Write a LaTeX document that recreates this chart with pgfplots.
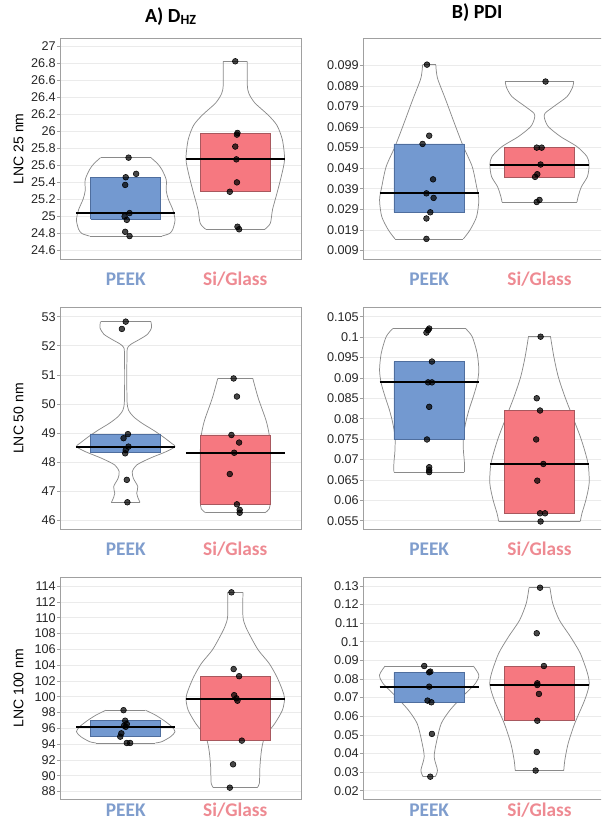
\documentclass[border=0pt]{standalone}
\usepackage{pgfplots}
\pgfplotsset{compat=1.18}
\usepackage{fontspec}
\setmainfont{Liberation Sans}
\newfontfamily\carlito{Carlito}
\definecolor{peekfill}{HTML}{7399D0}
\definecolor{peekdraw}{HTML}{4F6E9E}
\definecolor{sifill}{HTML}{F67880}
\definecolor{sidraw}{HTML}{A8585E}
\definecolor{peeklab}{HTML}{7F9DCD}
\definecolor{silab}{HTML}{EE8A92}
\definecolor{framec}{HTML}{A0A0A0}
\definecolor{gridc}{HTML}{EBEBEB}
\definecolor{vio}{HTML}{8A8A8A}
\pgfplotsset{
  panel/.style={
    scale only axis, anchor=south west,
    xmin=0.4, xmax=2.6,
    xtick={1,2},
    xticklabels={\textcolor{peeklab}{PEEK},\textcolor{silab}{Si/Glass}},
    x tick style={draw=none},
    xticklabel style={font=\carlito\bfseries\fontsize{14.5}{16}\selectfont, anchor=base, yshift=-17.3pt},
    ytick pos=left, tick align=outside, major tick length=2pt,
    y tick style={draw=framec, line width=0.5pt},
    yticklabel style={font=\fontsize{9.5}{11}\selectfont, inner sep=1pt, text=black!85},
    axis line style={draw=framec, line width=0.6pt},
    ymajorgrids, grid style={draw=gridc, line width=0.5pt},
    ylabel style={font=\fontsize{10.5}{12}\selectfont, at={(axis description cs:-0.172,0.5)}, anchor=center},
    title style={font=\carlito\bfseries\fontsize{15}{17}\selectfont, anchor=base},
    unbounded coords=jump,
  },
  vside/.style={draw=vio, line width=0.55pt, smooth, tension=0.45, no markers},
  vcap/.style={draw=vio, line width=0.55pt, sharp plot, no markers},
  pts/.style={only marks, mark=*, mark size=2.15pt, mark options={draw=none, fill=black, fill opacity=0.72}},
  med/.style={draw=black, line width=1.5pt, no markers, sharp plot},
  pbox/.style={draw=peekdraw, fill=peekfill, line width=0.5pt, no markers, sharp plot},
  sbox/.style={draw=sidraw, fill=sifill, line width=0.5pt, no markers, sharp plot},
}
\newcommand{\boxP}[2]{\addplot[pbox] coordinates {(0.68,#1)(1.32,#1)(1.32,#2)(0.68,#2)(0.68,#1)};}
\newcommand{\boxS}[2]{\addplot[sbox] coordinates {(1.68,#1)(2.32,#1)(2.32,#2)(1.68,#2)(1.68,#1)};}
\newcommand{\medP}[1]{\addplot[med] coordinates {(0.55,#1)(1.45,#1)};}
\newcommand{\medS}[1]{\addplot[med] coordinates {(1.55,#1)(2.45,#1)};}
\begin{document}
\begin{tikzpicture}
\path[use as bounding box] (0,0) rectangle (450.75pt,617.25pt);
\clip (0,0) rectangle (450.75pt,617.25pt);
% ---------------- A1
\begin{axis}[panel, at={(45pt,422.78pt)}, width=180.75pt, height=165.75pt,
  ymin=24.498, ymax=27.09,
  ytick={24.6,24.8,25,25.2,25.4,25.6,25.8,26,26.2,26.4,26.6,26.8,27},
  yticklabels={24.6,24.8,25,25.2,25.4,25.6,25.8,26,26.2,26.4,26.6,26.8,27},
  ylabel={LNC 25 nm},
  title={A) D\textsubscript{HZ}}, title style={at={(axis description cs:0.46,1)}, yshift=6.2pt}]
\addplot[vside] coordinates {(1.33,24.77)(1.40,24.80)(1.43,24.85)(1.45,24.96)(1.43,25.08)(1.39,25.2)(1.37,25.3)(1.37,25.43)(1.33,25.55)(1.29,25.62)(1.23,25.69)};
\addplot[vside] coordinates {(0.67,24.77)(0.60,24.80)(0.57,24.85)(0.55,24.96)(0.57,25.08)(0.61,25.2)(0.63,25.3)(0.63,25.43)(0.67,25.55)(0.71,25.62)(0.77,25.69)};
\addplot[vcap] coordinates {(0.67,24.77)(1.33,24.77)(1,nan)(0.77,25.69)(1.23,25.69)};
\addplot[vside] coordinates {(2.27,24.85)(2.32,24.92)(2.34,25.08)(2.38,25.27)(2.42,25.47)(2.45,25.67)(2.43,25.9)(2.38,26.07)(2.30,26.19)(2.18,26.33)(2.125,26.44)(2.11,26.54)(2.11,26.82)};
\addplot[vside] coordinates {(1.73,24.85)(1.68,24.92)(1.66,25.08)(1.62,25.27)(1.58,25.47)(1.55,25.67)(1.57,25.9)(1.62,26.07)(1.70,26.19)(1.82,26.33)(1.875,26.44)(1.89,26.54)(1.89,26.82)};
\addplot[vcap] coordinates {(1.73,24.85)(2.27,24.85)(2,nan)(1.89,26.82)(2.11,26.82)};
\boxP{24.97}{25.46}
\boxS{25.29}{25.97}
\medP{25.04}
\medS{25.67}
\addplot[pts] coordinates {(1.026,25.69)(1.095,25.50)(1.0,25.46)(0.995,25.37)(1.035,25.04)(0.99,25.0)(1.01,24.96)(0.995,24.82)(1.035,24.77)};
\addplot[pts] coordinates {(2.0,26.82)(2.02,25.98)(2.015,25.96)(2.0,25.82)(2.01,25.67)(2.015,25.40)(1.95,25.29)(2.02,24.88)(2.035,24.85)};
\end{axis}
% ---------------- B1
\begin{axis}[panel, at={(272.25pt,422.78pt)}, width=182pt, height=165.75pt,
  ymin=0.00479, ymax=0.1121,
  ytick={0.009,0.019,0.029,0.039,0.049,0.059,0.069,0.079,0.089,0.099},
  yticklabels={0.009,0.019,0.029,0.039,0.049,0.059,0.069,0.079,0.089,0.099},
  title={B) PDI}, title style={at={(axis description cs:0.47,1)}, yshift=8.5pt}]
\addplot[vside] coordinates {(1.31,0.0147)(1.37,0.019)(1.43,0.0255)(1.45,0.0336)(1.43,0.040)(1.39,0.0498)(1.31,0.0595)(1.24,0.0692)(1.15,0.0822)(1.08,0.0919)(1.065,0.096)(1.06,0.0993)};
\addplot[vside] coordinates {(0.69,0.0147)(0.63,0.019)(0.57,0.0255)(0.55,0.0336)(0.57,0.040)(0.61,0.0498)(0.69,0.0595)(0.76,0.0692)(0.85,0.0822)(0.92,0.0919)(0.935,0.096)(0.94,0.0993)};
\addplot[vcap] coordinates {(0.69,0.0147)(1.31,0.0147)(1,nan)(0.94,0.0993)(1.06,0.0993)};
\addplot[vside] coordinates {(2.34,0.0326)(2.35,0.0352)(2.38,0.040)(2.435,0.045)(2.45,0.0508)(2.43,0.0547)(2.34,0.0595)(2.19,0.0644)(2.08,0.0692)(2.045,0.0733)(2.05,0.0757)(2.13,0.079)(2.25,0.0838)(2.30,0.0883)(2.31,0.0911)};
\addplot[vside] coordinates {(1.66,0.0326)(1.65,0.0352)(1.62,0.040)(1.565,0.045)(1.55,0.0508)(1.57,0.0547)(1.66,0.0595)(1.81,0.0644)(1.92,0.0692)(1.955,0.0733)(1.95,0.0757)(1.87,0.079)(1.75,0.0838)(1.70,0.0883)(1.69,0.0911)};
\addplot[vcap] coordinates {(1.66,0.0326)(2.34,0.0326)(2,nan)(1.69,0.0911)(2.31,0.0911)};
\boxP{0.0276}{0.0608}
\boxS{0.0446}{0.059}
\medP{0.0368}
\medS{0.0508}
\addplot[pts] coordinates {(0.98,0.0993)(1.0,0.0648)(0.94,0.0608)(1.035,0.0436)(0.975,0.0368)(1.04,0.0346)(1.01,0.0276)(0.975,0.0246)(0.975,0.0147)};
\addplot[pts] coordinates {(2.055,0.0911)(1.975,0.059)(2.02,0.059)(2.01,0.0508)(1.98,0.0461)(1.96,0.0448)(2.0,0.0336)(1.975,0.0326)};
\end{axis}
% ---------------- A2
\begin{axis}[panel, at={(45pt,220.28pt)}, width=180.75pt, height=166.2pt,
  ymin=45.703, ymax=53.309,
  ytick={46,47,48,49,50,51,52,53},
  yticklabels={46,47,48,49,50,51,52,53},
  ylabel={LNC 50 nm}]
\addplot[vside] coordinates {(1.13,46.63)(1.11,46.8)(1.10,46.94)(1.11,47.17)(1.07,47.45)(1.06,47.68)(1.10,47.91)(1.22,48.14)(1.37,48.37)(1.45,48.54)(1.42,48.65)(1.34,48.88)(1.25,49.11)(1.15,49.34)(1.07,49.57)(1.025,49.8)(1.012,50.1)(1.01,51.0)(1.012,51.8)(1.02,51.95)(1.05,52.06)(1.13,52.23)(1.20,52.4)(1.235,52.62)(1.23,52.83)};
\addplot[vside] coordinates {(0.87,46.63)(0.89,46.8)(0.90,46.94)(0.89,47.17)(0.93,47.45)(0.94,47.68)(0.90,47.91)(0.78,48.14)(0.63,48.37)(0.55,48.54)(0.58,48.65)(0.66,48.88)(0.75,49.11)(0.85,49.34)(0.93,49.57)(0.975,49.8)(0.988,50.1)(0.99,51.0)(0.988,51.8)(0.98,51.95)(0.95,52.06)(0.87,52.23)(0.80,52.4)(0.765,52.62)(0.77,52.83)};
\addplot[vcap] coordinates {(0.87,46.63)(1.13,46.63)(1,nan)(0.77,52.83)(1.23,52.83)};
\addplot[vside] coordinates {(2.27,46.27)(2.31,46.4)(2.32,46.7)(2.32,47.5)(2.32,48.3)(2.31,48.94)(2.28,49.45)(2.21,50.2)(2.16,50.88)};
\addplot[vside] coordinates {(1.73,46.27)(1.69,46.4)(1.68,46.7)(1.68,47.5)(1.68,48.3)(1.69,48.94)(1.72,49.45)(1.79,50.2)(1.84,50.88)};
\addplot[vcap] coordinates {(1.73,46.27)(2.27,46.27)(2,nan)(1.84,50.88)(2.16,50.88)};
\boxP{48.33}{48.96}
\boxS{46.56}{48.94}
\medP{48.54}
\medS{48.33}
\addplot[pts] coordinates {(1.0,52.83)(0.965,52.58)(1.02,48.97)(0.98,48.83)(1.025,48.54)(1.0,48.42)(0.995,48.31)(1.01,47.40)(1.015,46.63)};
\addplot[pts] coordinates {(1.985,50.88)(2.015,50.26)(1.965,48.94)(2.035,48.68)(1.99,48.33)(1.95,47.60)(2.015,46.56)(2.04,46.37)(2.04,46.27)};
\end{axis}
% ---------------- B2
\begin{axis}[panel, at={(272.25pt,220.28pt)}, width=182pt, height=166.2pt,
  ymin=0.05288, ymax=0.10721,
  ytick={0.055,0.06,0.065,0.07,0.075,0.08,0.085,0.09,0.095,0.1,0.105},
  yticklabels={0.055,0.06,0.065,0.07,0.075,0.08,0.085,0.09,0.095,0.1,0.105}]
\addplot[vside] coordinates {(1.32,0.0669)(1.32,0.0691)(1.31,0.0723)(1.31,0.0756)(1.33,0.0789)(1.36,0.0821)(1.40,0.0854)(1.435,0.0887)(1.45,0.0919)(1.435,0.096)(1.39,0.1001)(1.33,0.1021)};
\addplot[vside] coordinates {(0.68,0.0669)(0.68,0.0691)(0.69,0.0723)(0.69,0.0756)(0.67,0.0789)(0.64,0.0821)(0.60,0.0854)(0.565,0.0887)(0.55,0.0919)(0.565,0.096)(0.61,0.1001)(0.67,0.1021)};
\addplot[vcap] coordinates {(0.68,0.0669)(1.32,0.0669)(1,nan)(0.67,0.1021)(1.33,0.1021)};
\addplot[vside] coordinates {(2.37,0.0548)(2.385,0.0568)(2.42,0.060)(2.45,0.0641)(2.44,0.069)(2.38,0.0748)(2.30,0.0805)(2.23,0.0854)(2.17,0.0903)(2.13,0.0952)(2.10,0.1001)};
\addplot[vside] coordinates {(1.63,0.0548)(1.615,0.0568)(1.58,0.060)(1.55,0.0641)(1.56,0.069)(1.62,0.0748)(1.70,0.0805)(1.77,0.0854)(1.83,0.0903)(1.87,0.0952)(1.90,0.1001)};
\addplot[vcap] coordinates {(1.63,0.0548)(2.37,0.0548)(2,nan)(1.90,0.1001)(2.10,0.1001)};
\boxP{0.075}{0.094}
\boxS{0.0568}{0.082}
\medP{0.0889}
\medS{0.0689}
\addplot[pts] coordinates {(1.0,0.1021)(0.99,0.1017)(0.975,0.1011)(1.025,0.094)(0.99,0.0889)(1.025,0.0889)(1.0,0.0829)(0.98,0.0749)(1.0,0.0681)(1.0,0.0674)(1.0,0.0669)};
\addplot[pts] coordinates {(2.01,0.1001)(1.975,0.085)(2.005,0.082)(1.97,0.0749)(2.035,0.0689)(1.98,0.0648)(2.005,0.0568)(2.05,0.0568)(2.01,0.0548)};
\end{axis}
% ---------------- A3
\begin{axis}[panel, at={(45pt,17.78pt)}, width=180.75pt, height=166.7pt,
  ymin=87.03, ymax=115.14,
  ytick={88,90,92,94,96,98,100,102,104,106,108,110,112,114},
  yticklabels={88,90,92,94,96,98,100,102,104,106,108,110,112,114},
  ylabel={LNC 100 nm},
  xticklabel style={yshift=6.5pt}]
\addplot[vside] coordinates {(1.27,94.15)(1.33,94.32)(1.41,94.95)(1.45,95.58)(1.42,96.22)(1.35,96.98)(1.27,97.69)(1.18,98.3)};
\addplot[vside] coordinates {(0.73,94.15)(0.67,94.32)(0.59,94.95)(0.55,95.58)(0.58,96.22)(0.65,96.98)(0.73,97.69)(0.82,98.3)};
\addplot[vcap] coordinates {(0.73,94.15)(1.27,94.15)(1,nan)(0.82,98.3)(1.18,98.3)};
\addplot[vside] coordinates {(2.20,88.5)(2.22,89.05)(2.225,91.16)(2.24,93.3)(2.27,94.95)(2.36,96.6)(2.43,98.3)(2.45,99.76)(2.43,100.85)(2.38,102.5)(2.31,104.2)(2.21,105.9)(2.14,107.6)(2.095,108.86)(2.07,110.12)(2.07,113.2)};
\addplot[vside] coordinates {(1.80,88.5)(1.78,89.05)(1.775,91.16)(1.76,93.3)(1.73,94.95)(1.64,96.6)(1.57,98.3)(1.55,99.76)(1.57,100.85)(1.62,102.5)(1.69,104.2)(1.79,105.9)(1.86,107.6)(1.905,108.86)(1.93,110.12)(1.93,113.2)};
\addplot[vcap] coordinates {(1.80,88.5)(2.20,88.5)(2,nan)(1.93,113.2)(2.07,113.2)};
\boxP{94.95}{96.97}
\boxS{94.45}{102.6}
\medP{96.17}
\medS{99.76}
\addplot[pts] coordinates {(0.98,98.3)(0.995,96.97)(1.01,96.55)(0.985,96.34)(1.0,96.2)(0.96,95.37)(0.95,94.95)(1.01,94.15)(1.04,94.15)};
\addplot[pts] coordinates {(1.965,113.2)(1.985,103.5)(2.035,102.6)(1.99,100.2)(2.01,99.8)(2.02,99.5)(2.06,94.45)(1.98,91.45)(1.95,88.5)};
\end{axis}
% ---------------- B3
\begin{axis}[panel, at={(272.25pt,17.78pt)}, width=182pt, height=166.7pt,
  ymin=0.01535, ymax=0.13484,
  ytick={0.02,0.03,0.04,0.05,0.06,0.07,0.08,0.09,0.1,0.11,0.12,0.13},
  yticklabels={0.02,0.03,0.04,0.05,0.06,0.07,0.08,0.09,0.1,0.11,0.12,0.13},
  xticklabel style={yshift=6.5pt}]
\addplot[vside] coordinates {(1.055,0.0275)(1.075,0.031)(1.045,0.0383)(1.07,0.0472)(1.11,0.0562)(1.19,0.0634)(1.30,0.0705)(1.42,0.0777)(1.45,0.0822)(1.40,0.087)};
\addplot[vside] coordinates {(0.945,0.0275)(0.925,0.031)(0.955,0.0383)(0.93,0.0472)(0.89,0.0562)(0.81,0.0634)(0.70,0.0705)(0.58,0.0777)(0.55,0.0822)(0.60,0.087)};
\addplot[vcap] coordinates {(0.945,0.0275)(1.055,0.0275)(1,nan)(0.60,0.087)(1.40,0.087)};
\addplot[vside] coordinates {(2.22,0.0308)(2.23,0.0365)(2.26,0.0454)(2.32,0.0562)(2.41,0.0687)(2.45,0.0768)(2.435,0.0831)(2.37,0.0938)(2.28,0.1028)(2.18,0.1117)(2.12,0.1207)(2.095,0.1291)};
\addplot[vside] coordinates {(1.78,0.0308)(1.77,0.0365)(1.74,0.0454)(1.68,0.0562)(1.59,0.0687)(1.55,0.0768)(1.565,0.0831)(1.63,0.0938)(1.72,0.1028)(1.82,0.1117)(1.88,0.1207)(1.905,0.1291)};
\addplot[vcap] coordinates {(1.78,0.0308)(2.22,0.0308)(2,nan)(1.905,0.1291)(2.095,0.1291)};
\boxP{0.0675}{0.0836}
\boxS{0.0576}{0.087}
\medP{0.0759}
\medS{0.0768}
\addplot[pts] coordinates {(0.955,0.087)(1.01,0.084)(1.0,0.0836)(1.0,0.0759)(0.985,0.0684)(1.02,0.0675)(1.025,0.0505)(1.01,0.0275)};
\addplot[pts] coordinates {(2.005,0.1291)(1.975,0.1046)(2.04,0.087)(1.98,0.0777)(1.98,0.0768)(1.995,0.072)(1.98,0.0576)(1.975,0.0408)(1.965,0.0308)};
\end{axis}
\end{tikzpicture}
\end{document}
